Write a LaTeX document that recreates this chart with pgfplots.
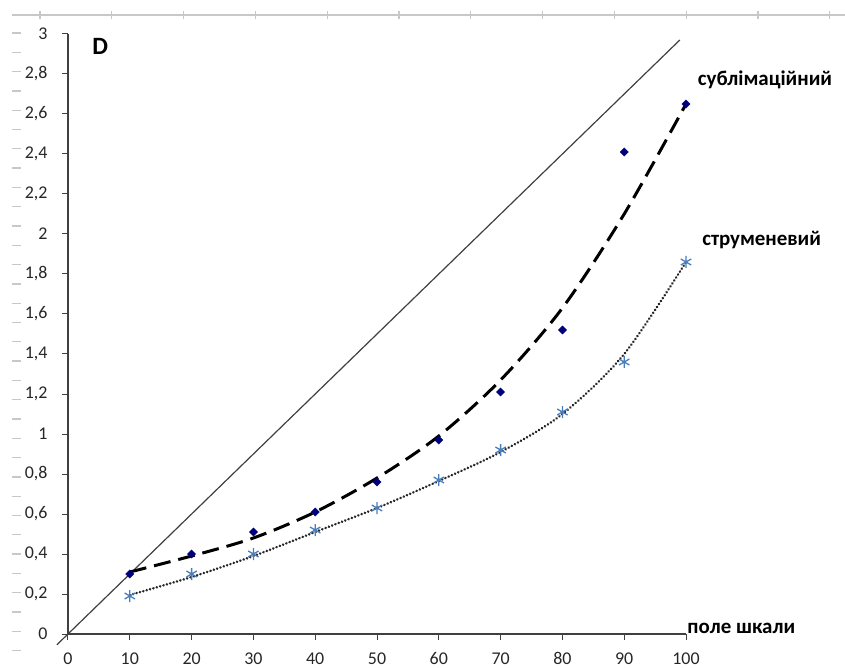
\documentclass[border=0pt]{standalone}
\usepackage{pgfplots}
\pgfplotsset{compat=1.18}
\usepackage{fontspec}
\setmainfont{Carlito}

\definecolor{subl}{HTML}{00007A}
\definecolor{strum}{HTML}{4A7EBB}
\definecolor{axgray}{HTML}{404040}
\definecolor{rulergray}{HTML}{C8C8C8}

\pgfkeys{/pgf/number format/assume math mode=true}

\begin{document}
\begin{tikzpicture}[font=\fontsize{18}{21}\selectfont]
\begin{axis}[
    anchor=origin, at={(0,0)},
    scale only axis, width=618bp, height=600bp,
    xmin=0, xmax=100, ymin=0, ymax=3,
    axis lines*=left,
    axis line style={axgray, line width=1.1bp},
    xtick={0,10,20,30,40,50,60,70,80,90,100},
    ytick={0,0.2,0.4,0.6,0.8,1,1.2,1.4,1.6,1.8,2,2.2,2.4,2.6,2.8,3},
    tick align=outside, major tick length=6bp,
    tick style={axgray, line width=1bp},
    ticklabel style={text=black!85},
    yticklabel style={/pgf/number format/use comma, xshift=-11bp},
    xticklabel style={yshift=-9bp},
    clip=false,
]
% line y = x (scale field)
\addplot[axgray, line width=1.2bp] coordinates {(-1.8,-0.054) (99,2.97)};

% trend lines
\addplot[black, line width=3bp, dash pattern=on 17bp off 8bp, smooth] coordinates {
    (10,0.31) (20,0.39) (30,0.48) (40,0.61) (50,0.78)
    (60,0.99) (70,1.27) (80,1.63) (90,2.10) (100,2.65)
};
\addplot[black!85, line width=2.8bp, line cap=round, dash pattern=on 0.01bp off 3.5bp, smooth] coordinates {
    (10,0.195) (20,0.285) (30,0.39) (40,0.51) (50,0.63)
    (60,0.765) (70,0.91) (80,1.10) (90,1.40) (100,1.86)
};

% sublimation
\addplot[only marks, mark=square*, mark size=2.9bp, mark options={rotate=45}, color=subl] coordinates {
    (10,0.30) (20,0.40) (30,0.51) (40,0.61) (50,0.76)
    (60,0.97) (70,1.21) (80,1.52) (90,2.41) (100,2.65)
};
% jet
\addplot[only marks, mark=asterisk, mark size=6bp, color=strum, line width=1.3bp] coordinates {
    (10,0.19) (20,0.30) (30,0.40) (40,0.52) (50,0.63)
    (60,0.77) (70,0.92) (80,1.11) (90,1.36) (100,1.86)
};

\node[anchor=west, inner sep=0pt, font=\fontsize{21}{24}\selectfont\bfseries] at (axis cs:101.9,2.77) {сублімаційний};
\node[anchor=west, inner sep=0pt, font=\fontsize{21}{24}\selectfont\bfseries] at (axis cs:102.6,1.97) {струменевий};
\node[anchor=west, inner sep=0pt, font=\fontsize{21}{24}\selectfont\bfseries] at (axis cs:100.2,0.03) {поле шкали};
\node[anchor=north west, inner sep=0pt, font=\fontsize{25}{28}\selectfont\bfseries] at (axis cs:3.9,2.98) {D};
\end{axis}

% page rulers of the screenshot
\begin{scope}[x=1bp, y=-1bp, shift={(-68bp,634bp)}]
  \draw[rulergray, line width=1.3bp] (12,15) -- (845,15);
  \foreach \k in {0,...,11}
    \draw[rulergray, line width=1.3bp] ({40+71.8*\k},11) -- ({40+71.8*\k},19);
  \foreach \k in {0,...,33}
    \draw[rulergray, line width=1.3bp] (12,{33+19.3*\k}) -- (21,{33+19.3*\k});
  \pgfresetboundingbox
  \useasboundingbox (0,0) rectangle (845,668);
\end{scope}
\end{tikzpicture}
\end{document}
